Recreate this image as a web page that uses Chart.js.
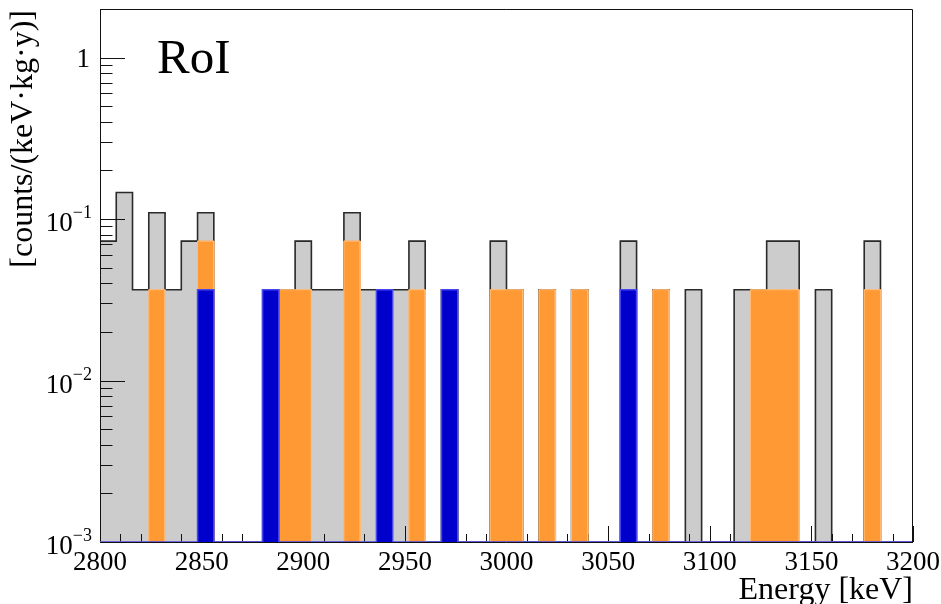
<!DOCTYPE html>
<html>
<head>
<meta charset="utf-8">
<script src="https://cdn.jsdelivr.net/npm/chart.js@4.4.1/dist/chart.umd.min.js"></script>
<style>
  html, body { margin: 0; padding: 0; background: #ffffff; }
  #wrap { width: 941px; height: 604px; }
</style>
</head>
<body>
<div id="wrap"><canvas id="roi" width="941" height="604"></canvas></div>
<script>
// Energy binning of the region of interest
const E_MIN = 2800;
const E_MAX = 3200;
const BIN_WIDTH = 8;   // keV
const N_BINS = (E_MAX - E_MIN) / BIN_WIDTH;

// Axis range and tick labels
const Y_MIN = 0.001;
const Y_MAX = 2;
const xTickValues = [2800, 2850, 2900, 2950, 3000, 3050, 3100, 3150, 3200];
const yDecadeValues = [0.001, 0.01, 0.1, 1];
const yDecadeLabels = [['10', '\u22123'], ['10', '\u22122'], ['10', '\u22121'], ['1', '']];

// Rates per 8 keV bin in counts/(keV·kg·y); one event is about 0.0365
const rateAll = [
  0.073, 0.146, 0.0365, 0.1095, 0.0365, 0.073, 0.1095, 0, 0, 0,
  0.0365, 0.0365, 0.073, 0.0365, 0.0365, 0.1095, 0.0365, 0.0365, 0.0365, 0.073,
  0, 0.0365, 0, 0, 0.073, 0.0365, 0, 0.0365, 0, 0.0365,
  0, 0, 0.073, 0, 0.0365, 0, 0.0365, 0, 0, 0.0365,
  0.0365, 0.073, 0.073, 0, 0.0365, 0, 0, 0.073, 0, 0
];
const rateOrange = [
  0, 0, 0, 0.0365, 0, 0, 0.073, 0, 0, 0,
  0, 0.0365, 0.0365, 0, 0, 0.073, 0, 0, 0, 0.0365,
  0, 0, 0, 0, 0.0365, 0.0365, 0, 0.0365, 0, 0.0365,
  0, 0, 0, 0, 0.0365, 0, 0, 0, 0, 0,
  0.0365, 0.0365, 0.0365, 0, 0, 0, 0, 0.0365, 0, 0
];
const rateBlue = [
  0, 0, 0, 0, 0, 0, 0.0365, 0, 0, 0,
  0.0365, 0, 0, 0, 0, 0, 0, 0.0365, 0, 0,
  0, 0.0365, 0, 0, 0, 0, 0, 0, 0, 0,
  0, 0, 0.0365, 0, 0, 0, 0, 0, 0, 0,
  0, 0, 0, 0, 0, 0, 0, 0, 0, 0
];

const FONT = "'Liberation Serif', 'Times New Roman', serif";
const GRAY = '#cccccc';
const ORANGE = '#ff9933';
const BLUE = '#0000cc';

const binLabels = Array.from({ length: N_BINS }, (_, i) => String(E_MIN + i * BIN_WIDTH));

// Bars: empty bins are left out
const barData = values => values.map(v => (v > 0 ? v : null));

// Histogram outline as a step line along the bin edges; empty bins sit on the floor
function stepOutline(values) {
  const pts = [];
  values.forEach((v, i) => {
    const y = v > 0 ? v : Y_MIN;
    pts.push({ x: E_MIN + i * BIN_WIDTH, y }, { x: E_MIN + (i + 1) * BIN_WIDTH, y });
  });
  return pts;
}

// Axis lines and inward ticks, painted over the grey histogram but under the coloured ones
function drawAxes(chart) {
  const { ctx, chartArea: a, scales: { x, y } } = chart;
  ctx.save();
  ctx.strokeStyle = '#111';
  ctx.lineWidth = 1;
  ctx.beginPath();
  ctx.moveTo(a.left + 0.5, a.top);
  ctx.lineTo(a.left + 0.5, a.bottom + 0.5);
  ctx.lineTo(a.right, a.bottom + 0.5);
  for (let e = E_MIN; e <= E_MAX; e += 10) {
    const px = Math.round(x.getPixelForValue(e)) + 0.5;
    const len = xTickValues.includes(e) ? 16 : 8;
    ctx.moveTo(px, a.bottom);
    ctx.lineTo(px, a.bottom - len);
  }
  yDecadeValues.forEach(dec => {
    for (let m = 1; m <= 9; m++) {
      const v = m * dec;
      if (v < Y_MIN || v >= Y_MAX) continue;
      const py = Math.round(y.getPixelForValue(v)) + 0.5;
      const len = m === 1 ? 25 : 12.5;
      ctx.moveTo(a.left, py);
      ctx.lineTo(a.left + len, py);
    }
  });
  ctx.stroke();
  ctx.restore();
}

const axesPlugin = {
  id: 'roiAxes',
  afterDatasetDraw(chart, args) {
    if (chart.data.datasets[args.index].axesAfter) drawAxes(chart);
  },
  afterDraw(chart) {
    const { ctx, chartArea: a, scales: { y } } = chart;
    ctx.save();
    // remaining frame sides
    ctx.strokeStyle = '#111';
    ctx.lineWidth = 1;
    ctx.beginPath();
    ctx.moveTo(a.left, a.top + 0.5);
    ctx.lineTo(a.right - 0.5, a.top + 0.5);
    ctx.lineTo(a.right - 0.5, a.bottom + 0.5);
    ctx.stroke();

    ctx.fillStyle = '#000';
    ctx.textBaseline = 'alphabetic';
    // y decade labels with superscript exponents
    const right = a.left - 8;
    yDecadeValues.forEach((v, i) => {
      const py = y.getPixelForValue(v);
      const [base, exp] = yDecadeLabels[i];
      ctx.textAlign = 'right';
      if (!exp) {
        ctx.font = `27px ${FONT}`;
        ctx.fillText(base, right - 2, py + 9);
        return;
      }
      ctx.font = `18px ${FONT}`;
      const ew = ctx.measureText(exp).width;
      ctx.fillText(exp, right, py - 1);
      ctx.font = `27px ${FONT}`;
      ctx.fillText(base, right - ew, py + 12);
    });

    // axis titles
    ctx.font = `32px ${FONT}`;
    ctx.textAlign = 'right';
    ctx.fillText('Energy [keV]', a.right, 599);
    ctx.save();
    ctx.translate(32, a.top + 1);
    ctx.rotate(-Math.PI / 2);
    ctx.font = `32px ${FONT}`;
    ctx.textAlign = 'right';
    ctx.fillText('[counts/(keV\u00b7kg\u00b7y)]', 0, 0);
    ctx.restore();

    // panel label
    ctx.font = `49px ${FONT}`;
    ctx.textAlign = 'left';
    ctx.fillText('RoI', 157, 73);
    ctx.restore();
  }
};

new Chart(document.getElementById('roi'), {
  data: {
    labels: binLabels,
    datasets: [
      { type: 'line', data: stepOutline(rateBlue), xAxisID: 'x', yAxisID: 'y',
        borderColor: '#4646f0', borderWidth: 1.5, pointRadius: 0, fill: false, order: 0 },
      { type: 'bar', data: barData(rateBlue), xAxisID: 'xc', yAxisID: 'y',
        backgroundColor: BLUE, borderWidth: 0, order: 1 },
      { type: 'line', data: stepOutline(rateOrange), xAxisID: 'x', yAxisID: 'y',
        borderColor: '#ffbd7a', borderWidth: 1, pointRadius: 0, fill: false, order: 2 },
      { type: 'bar', data: barData(rateOrange), xAxisID: 'xc', yAxisID: 'y',
        backgroundColor: ORANGE, borderWidth: 0, order: 3 },
      { type: 'line', data: stepOutline(rateAll), xAxisID: 'x', yAxisID: 'y',
        borderColor: '#2a2a2a', borderWidth: 1.6, pointRadius: 0, fill: false, order: 4,
        axesAfter: true },
      { type: 'bar', data: barData(rateAll), xAxisID: 'xc', yAxisID: 'y',
        backgroundColor: GRAY, borderWidth: 0, order: 5 }
    ]
  },
  options: {
    responsive: false,
    animation: false,
    devicePixelRatio: 1,
    events: [],
    layout: { padding: { top: 9, right: 28, bottom: 0, left: 0 } },
    datasets: {
      bar: { grouped: false, barPercentage: 1, categoryPercentage: 1 }
    },
    plugins: { legend: { display: false }, tooltip: { enabled: false } },
    scales: {
      xc: { type: 'category', display: false, offset: true },
      x: {
        type: 'linear', position: 'bottom', min: E_MIN, max: E_MAX, offset: false,
        grid: { display: false, drawTicks: false },
        border: { display: false },
        afterBuildTicks: s => { s.ticks = xTickValues.map(v => ({ value: v })); },
        afterFit: s => { s.height = 62; s.paddingLeft = 0; s.paddingRight = 0; },
        ticks: {
          autoSkip: false, maxRotation: 0, padding: 5, color: '#000',
          font: { family: FONT, size: 27 },
          callback: v => String(v)
        }
      },
      y: {
        type: 'logarithmic', position: 'left', min: Y_MIN, max: Y_MAX,
        grid: { display: false, drawTicks: false },
        border: { display: false },
        ticks: { display: false },
        afterFit: s => { s.width = 100; }
      }
    }
  },
  plugins: [axesPlugin]
});
</script>
</body>
</html>
